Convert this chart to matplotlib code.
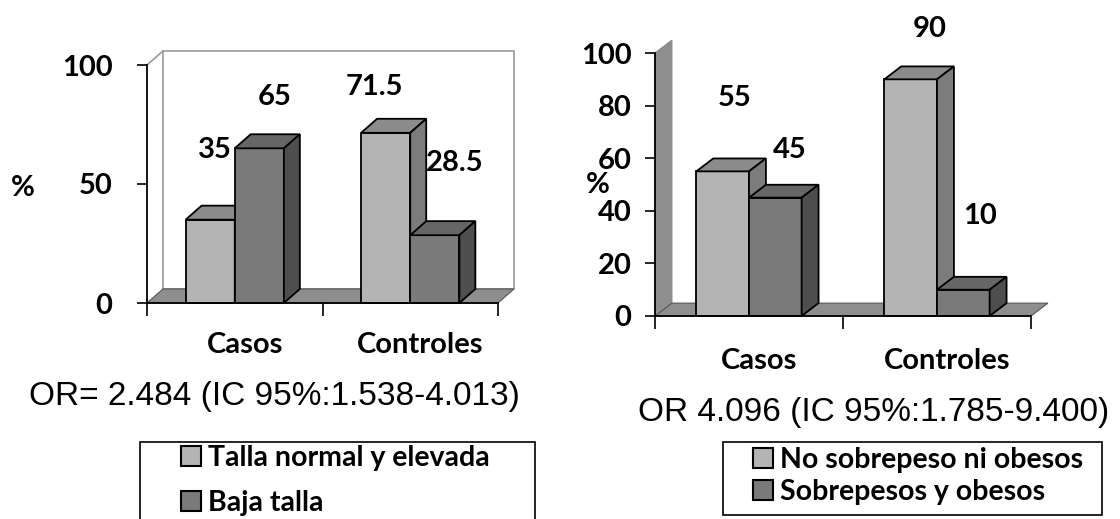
import matplotlib
matplotlib.use("Agg")
import matplotlib.pyplot as plt
from matplotlib.patches import Polygon, Rectangle, Patch
from matplotlib.transforms import ScaledTranslation

# ---------------- data ----------------
categories = ["Casos", "Controles"]

left_series = ["Talla normal y elevada", "Baja talla"]
left_light = [35, 71.5]
left_dark = [65, 28.5]
left_yticks = [0, 50, 100]
left_note = "OR= 2.484 (IC 95%:1.538-4.013)"

right_series = ["No sobrepeso ni obesos", "Sobrepesos y obesos"]
right_light = [55, 90]
right_dark = [45, 10]
right_yticks = [0, 20, 40, 60, 80, 100]
right_note = "OR 4.096 (IC 95%:1.785-9.400)"

# ---------------- style ----------------
W, H = 1120, 519
BOLD = ["Lato", "DejaVu Sans"]
REG = ["Liberation Sans", "DejaVu Sans"]
LIGHT = dict(front="#b4b4b4", top="#8c8c8c", side="#7c7c7c")
DARK = dict(front="#7a7a7a", top="#666666", side="#4e4e4e")
FLOOR = "#8e8e8e"
BAR_W = 0.28
FS = 21

fig = plt.figure(figsize=(W / 100, H / 100), dpi=100)
fig.patch.set_facecolor("white")


def px_axes(left, right, bottom, top):
    return fig.add_axes([left / W, (H - bottom) / H, (right - left) / W, (bottom - top) / H])


def bar3d(ax, x0, val, col, dx, dy, z):
    ax.add_patch(Rectangle((x0, 0), BAR_W, val, facecolor=col["front"], edgecolor="black",
                           lw=1.3, zorder=z, clip_on=False))
    ax.add_patch(Polygon([(x0, val), (x0 + BAR_W, val), (x0 + BAR_W + dx, val + dy), (x0 + dx, val + dy)],
                         closed=True, facecolor=col["top"], edgecolor="black", lw=1.3, zorder=z, clip_on=False))
    ax.add_patch(Polygon([(x0 + BAR_W, 0), (x0 + BAR_W + dx, dy), (x0 + BAR_W + dx, val + dy), (x0 + BAR_W, val)],
                         closed=True, facecolor=col["side"], edgecolor="black", lw=1.3, zorder=z, clip_on=False))


def panel(ax, light, dark, yticks, dx, dy, label_off, back_wall, ytick_pad, xlab_pad, pct_xy):
    ax.set_xlim(-0.5, 1.5)
    ax.set_ylim(0, 100)
    ax.patch.set_visible(False)
    for s in ("top", "right"):
        ax.spines[s].set_visible(False)
    for s in ("left", "bottom"):
        ax.spines[s].set_color("black")
        ax.spines[s].set_linewidth(1.3)
        ax.spines[s].set_zorder(6)

    # floor
    ax.add_patch(Polygon([(-0.5, 0), (1.5, 0), (1.5 + dx, dy), (-0.5 + dx, dy)], closed=True,
                         facecolor=FLOOR, edgecolor="#555555", lw=0.8, zorder=1, clip_on=False))
    if back_wall:
        ax.add_patch(Rectangle((-0.5 + dx, dy), 2, 100, facecolor="white", edgecolor="#9a9a9a",
                               lw=1.2, zorder=0.5, clip_on=False))
        ax.plot([-0.5, -0.5 + dx], [100, 100 + dy], color="#9a9a9a", lw=1.2, zorder=0.6, clip_on=False)
    else:
        ax.add_patch(Polygon([(-0.5, 0), (-0.5, 100), (-0.5 + dx, 100 + dy), (-0.5 + dx, dy)], closed=True,
                             facecolor=FLOOR, edgecolor="#8a8a8a", lw=0.8, zorder=0.5, clip_on=False))

    xs = range(len(categories))
    for i in xs:
        bar3d(ax, i - BAR_W, light[i], LIGHT, dx, dy, 3 + i)
        bar3d(ax, i, dark[i], DARK, dx, dy, 3.5 + i)
    vals = [(i - BAR_W / 2, light[i]) for i in xs] + [(i + BAR_W / 2, dark[i]) for i in xs]
    for (x, v), (ox, oy) in zip(vals, label_off):
        ax.text(x + ox, v + oy, f"{v:g}", ha="center", va="center", fontsize=FS,
                family=BOLD, fontweight="bold", zorder=10)

    ax.set_yticks(yticks)
    ax.set_yticklabels([str(t) for t in yticks], family=BOLD, fontweight="bold", fontsize=FS)
    ax.tick_params(axis="y", length=7, width=1.2, pad=ytick_pad, direction="out")
    ax.set_xticks([-0.5, 0.5, 1.5])
    ax.set_xticklabels(["", "", ""])
    ax.set_xticks(list(xs), minor=True)
    ax.set_xticklabels(categories, minor=True, family=BOLD, fontweight="bold", fontsize=FS)
    ax.tick_params(axis="x", which="major", length=9, width=1.2)
    ax.tick_params(axis="x", which="minor", length=0, pad=xlab_pad)
    off = ScaledTranslation(10 / 100, 0, fig.dpi_scale_trans)
    for lab in ax.xaxis.get_minorticklabels():
        lab.set_transform(lab.get_transform() + off)
    fig.text(pct_xy[0] / W, 1 - pct_xy[1] / H, "%", ha="center", va="center", fontsize=FS,
             family=BOLD, fontweight="bold")


axL = px_axes(147, 498, 303, 65)
panel(axL, left_light, left_dark, left_yticks, 0.091, 5.9,
      [(0.027, 29.3), (-0.065, 19.3), (0.09, 21.6), (0.115, 30.3)], True, 18, 21, (23, 188))

axR = px_axes(655, 1031, 316, 53)
panel(axR, right_light, right_dark, right_yticks, 0.09, 4.9,
      [(0.066, 27.9), (0.099, 19.3), (0.076, 18.0), (0.089, 28.0)], False, 10, 23, (598, 185))

# notes
fig.text(274 / W, 1 - 397 / H, left_note, ha="center", va="center", fontsize=24, family=REG)
fig.text(874 / W, 1 - 412 / H, right_note, ha="center", va="center", fontsize=24, family=REG)

# legends
def legend_box(ax, names, box, anchor, spacing):
    x0, x1, y0, y1 = box
    fig.add_artist(Rectangle((x0 / W, 1 - y1 / H), (x1 - x0) / W, (y1 - y0) / H, transform=fig.transFigure,
                             facecolor="white", edgecolor="black", lw=1.2, zorder=0))
    handles = [Patch(facecolor=LIGHT["front"], edgecolor="black", lw=1.5),
               Patch(facecolor=DARK["front"], edgecolor="black", lw=1.5)]
    fig.legend(handles, names, loc="upper left", bbox_to_anchor=(anchor[0] / W, 1 - anchor[1] / H),
               frameon=False, prop=dict(family=BOLD, weight="bold", size=20.5), handlelength=0.7,
               handleheight=0.7, handletextpad=0.25, labelspacing=spacing, borderpad=0, borderaxespad=0)


legend_box(axL, left_series, (140, 535, 442, 530), (181, 445), 0.68)
legend_box(axR, right_series, (723, 1102, 442, 515), (753, 447), 0.22)

fig.savefig("out.png", dpi=100, facecolor="white")
